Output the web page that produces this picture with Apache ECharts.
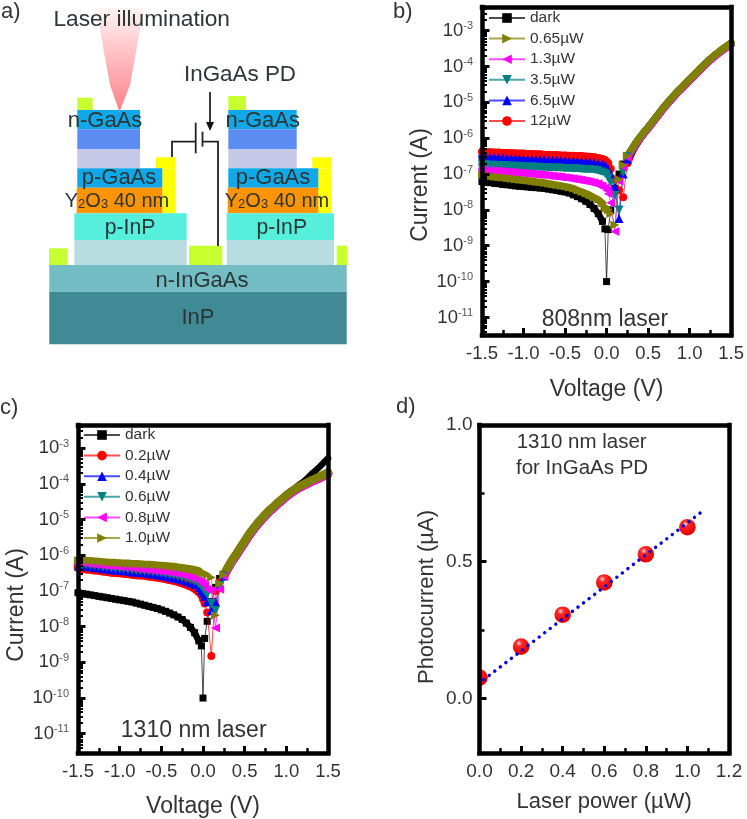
<!DOCTYPE html>
<html><head><meta charset="utf-8">
<style>html,body{margin:0;padding:0;background:#fff}#c{width:747px;height:819px;filter:blur(0.45px)}</style>
<script src="https://cdn.jsdelivr.net/npm/echarts@6/dist/echarts.min.js"></script>
</head><body><div id="c"></div>
<script>
// ---------- data ----------
const voltages = [-1.5,-1.45,-1.4,-1.35,-1.3,-1.25,-1.2,-1.15,-1.1,-1.05,-1.0,-.95,-.9,-.85,-.8,-.75,-.7,-.65,-.6,-.55,-.5,-.45,-.4,-.35,-.3,-.25,-.2,-.15,-.1,-.05,-.02,0,.02,.05,.1,.15,.2,.25,.3,.35,.4,.45,.5,.55,.6,.65,.7,.75,.8,.85,.9,.95,1.0,1.05,1.1,1.15,1.2,1.25,1.3,1.35,1.4,1.45,1.5];
// Panel b: log10 of current (A)
const bDark = [-7.21,-7.23,-7.24,-7.26,-7.27,-7.29,-7.30,-7.31,-7.33,-7.34,-7.35,-7.36,-7.37,-7.38,-7.39,-7.40,-7.42,-7.44,-7.46,-7.48,-7.50,-7.53,-7.58,-7.63,-7.69,-7.76,-7.85,-7.96,-8.1,-8.32,-8.53,-10,-8.55,-8.0,-7.4,-7.0,-6.72,-6.5,-6.31,-6.13,-5.97,-5.83,-5.69,-5.54,-5.39,-5.24,-5.09,-4.96,-4.83,-4.7,-4.59,-4.47,-4.35,-4.24,-4.12,-4.0,-3.89,-3.78,-3.68,-3.59,-3.5,-3.42,-3.33];
const b065 = [-7.03,-7.05,-7.06,-7.08,-7.09,-7.10,-7.12,-7.13,-7.15,-7.16,-7.17,-7.19,-7.20,-7.22,-7.23,-7.25,-7.27,-7.29,-7.31,-7.33,-7.35,-7.38,-7.41,-7.46,-7.50,-7.55,-7.60,-7.66,-7.72,-7.82,-7.9,-7.95,-8.0,-8.1,-8.42,-7.15,-6.75,-6.5,-6.32,-6.14,-5.98,-5.83,-5.7,-5.55,-5.4,-5.25,-5.1,-4.97,-4.84,-4.71,-4.6,-4.48,-4.36,-4.25,-4.13,-4.01,-3.9,-3.79,-3.69,-3.6,-3.51,-3.43,-3.35];
const b13 = [-6.87,-6.88,-6.89,-6.90,-6.91,-6.92,-6.93,-6.94,-6.95,-6.96,-6.97,-6.98,-6.99,-7.0,-7.01,-7.02,-7.03,-7.05,-7.06,-7.07,-7.09,-7.10,-7.12,-7.14,-7.16,-7.18,-7.2,-7.23,-7.26,-7.32,-7.38,-7.45,-7.55,-7.8,-8.6,-7.2,-6.8,-6.53,-6.35,-6.17,-6.01,-5.86,-5.73,-5.58,-5.43,-5.28,-5.13,-5.0,-4.87,-4.74,-4.63,-4.51,-4.39,-4.28,-4.16,-4.04,-3.93,-3.82,-3.72,-3.63,-3.54,-3.46,-3.38];
const b35 = [-6.73,-6.73,-6.74,-6.74,-6.75,-6.75,-6.76,-6.76,-6.77,-6.77,-6.78,-6.78,-6.79,-6.79,-6.80,-6.80,-6.81,-6.81,-6.82,-6.82,-6.83,-6.83,-6.84,-6.84,-6.85,-6.86,-6.86,-6.87,-6.89,-6.93,-6.98,-7.03,-7.1,-7.25,-7.6,-8.0,-6.95,-6.52,-6.34,-6.16,-6.0,-5.85,-5.72,-5.57,-5.42,-5.27,-5.12,-4.99,-4.86,-4.73,-4.62,-4.5,-4.38,-4.27,-4.15,-4.03,-3.92,-3.81,-3.71,-3.62,-3.53,-3.45,-3.37];
const b65 = [-6.52,-6.52,-6.53,-6.53,-6.54,-6.54,-6.55,-6.55,-6.56,-6.56,-6.57,-6.57,-6.58,-6.58,-6.59,-6.59,-6.60,-6.60,-6.61,-6.61,-6.62,-6.62,-6.63,-6.63,-6.64,-6.65,-6.66,-6.67,-6.69,-6.72,-6.76,-6.81,-6.87,-7.0,-7.35,-8.24,-7.0,-6.6,-6.38,-6.19,-6.02,-5.86,-5.72,-5.57,-5.42,-5.27,-5.12,-4.99,-4.86,-4.73,-4.62,-4.5,-4.38,-4.27,-4.15,-4.03,-3.92,-3.81,-3.71,-3.62,-3.53,-3.45,-3.37];
const b12 = [-6.38,-6.39,-6.39,-6.40,-6.40,-6.41,-6.41,-6.42,-6.42,-6.43,-6.43,-6.44,-6.44,-6.45,-6.45,-6.46,-6.46,-6.47,-6.47,-6.48,-6.48,-6.49,-6.49,-6.50,-6.50,-6.51,-6.52,-6.53,-6.55,-6.58,-6.61,-6.65,-6.7,-6.85,-7.15,-7.45,-7.65,-6.7,-6.42,-6.2,-6.02,-5.86,-5.72,-5.57,-5.42,-5.27,-5.12,-4.99,-4.86,-4.73,-4.61,-4.5,-4.38,-4.26,-4.14,-4.02,-3.91,-3.8,-3.7,-3.61,-3.52,-3.44,-3.36];
// Panel c
const cDark = [-7.05,-7.07,-7.09,-7.11,-7.13,-7.15,-7.17,-7.19,-7.21,-7.23,-7.25,-7.27,-7.29,-7.31,-7.34,-7.37,-7.40,-7.43,-7.46,-7.49,-7.53,-7.57,-7.62,-7.67,-7.73,-7.80,-7.90,-8.02,-8.17,-8.40,-8.54,-10,-8.33,-7.85,-7.3,-6.9,-6.65,-6.53,-6.31,-6.11,-5.94,-5.76,-5.58,-5.4,-5.24,-5.09,-4.96,-4.83,-4.71,-4.61,-4.5,-4.4,-4.3,-4.21,-4.13,-4.03,-3.95,-3.85,-3.73,-3.63,-3.52,-3.4,-3.28];
const c02 = [-6.36,-6.37,-6.39,-6.40,-6.42,-6.43,-6.45,-6.46,-6.48,-6.49,-6.50,-6.51,-6.52,-6.54,-6.55,-6.56,-6.57,-6.59,-6.60,-6.62,-6.64,-6.66,-6.69,-6.71,-6.74,-6.78,-6.82,-6.87,-6.93,-7.03,-7.12,-7.23,-7.35,-7.6,-8.82,-7.0,-6.75,-6.57,-6.35,-6.15,-5.98,-5.8,-5.62,-5.44,-5.28,-5.13,-5.0,-4.87,-4.75,-4.65,-4.54,-4.44,-4.34,-4.25,-4.17,-4.1,-4.04,-3.98,-3.92,-3.87,-3.82,-3.76,-3.7];
const c04 = [-6.30,-6.31,-6.33,-6.34,-6.36,-6.37,-6.39,-6.40,-6.42,-6.43,-6.44,-6.45,-6.46,-6.48,-6.49,-6.50,-6.51,-6.53,-6.54,-6.56,-6.58,-6.60,-6.63,-6.65,-6.68,-6.71,-6.75,-6.79,-6.84,-6.92,-6.99,-7.06,-7.15,-7.3,-7.55,-7.3,-6.85,-6.58,-6.36,-6.16,-5.99,-5.81,-5.63,-5.45,-5.29,-5.14,-5.01,-4.88,-4.76,-4.66,-4.55,-4.45,-4.35,-4.26,-4.18,-4.11,-4.05,-3.99,-3.93,-3.88,-3.83,-3.77,-3.71];
const c06 = [-6.26,-6.27,-6.28,-6.30,-6.31,-6.32,-6.34,-6.35,-6.37,-6.38,-6.39,-6.40,-6.41,-6.43,-6.44,-6.45,-6.46,-6.47,-6.48,-6.50,-6.52,-6.54,-6.56,-6.58,-6.61,-6.64,-6.67,-6.71,-6.75,-6.82,-6.87,-6.93,-7.0,-7.1,-7.35,-7.55,-6.85,-6.58,-6.36,-6.16,-5.99,-5.81,-5.63,-5.45,-5.29,-5.14,-5.01,-4.88,-4.76,-4.66,-4.55,-4.45,-4.35,-4.26,-4.18,-4.11,-4.05,-3.99,-3.93,-3.88,-3.83,-3.77,-3.71];
const c08 = [-6.21,-6.22,-6.23,-6.25,-6.26,-6.27,-6.29,-6.30,-6.31,-6.32,-6.33,-6.34,-6.35,-6.37,-6.38,-6.39,-6.40,-6.41,-6.43,-6.44,-6.46,-6.47,-6.49,-6.51,-6.53,-6.56,-6.59,-6.62,-6.66,-6.71,-6.75,-6.8,-6.85,-6.95,-6.98,-8.04,-6.95,-6.59,-6.37,-6.17,-6.0,-5.82,-5.64,-5.46,-5.3,-5.15,-5.02,-4.89,-4.77,-4.67,-4.56,-4.46,-4.36,-4.27,-4.19,-4.12,-4.06,-4.0,-3.94,-3.9,-3.84,-3.78,-3.73];
const c10 = [-6.14,-6.15,-6.16,-6.17,-6.18,-6.19,-6.20,-6.21,-6.22,-6.22,-6.23,-6.24,-6.24,-6.25,-6.25,-6.26,-6.27,-6.27,-6.28,-6.29,-6.30,-6.31,-6.32,-6.33,-6.35,-6.36,-6.38,-6.40,-6.42,-6.45,-6.47,-6.48,-6.5,-6.54,-6.62,-7.68,-6.8,-6.55,-6.33,-6.13,-5.96,-5.78,-5.6,-5.42,-5.26,-5.11,-4.98,-4.85,-4.73,-4.63,-4.52,-4.42,-4.32,-4.23,-4.15,-4.08,-4.02,-3.96,-3.9,-3.85,-3.8,-3.74,-3.68];
// Panel d
const laserPower = [0,0.2,0.4,0.6,0.8,1.0];
const photocurrent = [0.076,0.189,0.306,0.424,0.527,0.626];
const fitLine = [[0.02,0.068],[1.065,0.68]];
const decades = [-11,-10,-9,-8,-7,-6,-5,-4,-3];

// ---------- helpers ----------
const TXT='#333', FONT='"Liberation Sans", Arial, sans-serif';
const frameW=4.5;
const majors=decades.map(d=>Math.pow(10,d));
const minors=[];
[-12].concat(decades).forEach(d=>{for(let k=2;k<10;k++)minors.push(k*Math.pow(10,d));});
const grids=[],xAxes=[],yAxes=[],series=[],legends=[];
function lineOnly(extra){return Object.assign({show:true,z:6,axisLine:{show:true,onZero:false,lineStyle:{color:'#000',width:frameW,cap:'square'}},axisTick:{show:false},axisLabel:{show:false},splitLine:{show:false}},extra);}
function base(g,extra){return Object.assign({gridIndex:g,z:6,splitLine:{show:false},minorSplitLine:{show:false},nameTextStyle:{color:TXT,fontSize:23,fontFamily:FONT},axisLine:{show:true,onZero:false,lineStyle:{color:'#000',width:frameW,cap:'square'}}},extra);}
// indexes of the reverse and forward branches in `voltages` (the spikes between them stay thin)
const isBranch=i=>i<30||i>36;
const markSize=(full,i)=>i>37?0:(i<30?Math.min(full,8):full);

function ivPanel(rect,yMin,yMax,xGap,yGap,namePad,bandW,legendPos,list){
  const g=grids.length;
  grids.push(Object.assign({show:false},rect));
  const xi=xAxes.length, yi=yAxes.length;
  xAxes.push(base(g,{type:'value',min:-1.5,max:1.5,interval:0.5,position:'bottom',name:'Voltage (V)',nameLocation:'middle',nameGap:xGap,
    axisTick:{inside:true,length:7,lineStyle:{color:'#000',width:3}},
    minorTick:{show:true,splitNumber:2,length:5,lineStyle:{color:'#000',width:2.5}},
    axisLabel:{color:TXT,fontSize:18.5,fontFamily:FONT,margin:9,formatter:v=>v.toFixed(1),showMinLabel:true,showMaxLabel:true}}));
  xAxes.push(lineOnly({gridIndex:g,type:'value',min:-1.5,max:1.5,position:'top'}));
  const yRange={type:'log',logBase:10,min:Math.pow(10,yMin),max:Math.pow(10,yMax)};
  yAxes.push(base(g,Object.assign({},yRange,{position:'left',name:'Current (A)',nameLocation:'middle',nameGap:yGap,nameRotate:90,
    nameTextStyle:{color:TXT,fontSize:23,fontFamily:FONT,padding:namePad},
    axisTick:{inside:true,length:7.5,lineStyle:{color:'#000',width:3},customValues:majors},
    axisLabel:{margin:9,customValues:majors,fontFamily:FONT,
      formatter:v=>'{n|10}{s|'+Math.round(Math.log10(v))+'}',
      rich:{n:{fontSize:18.5,color:TXT,fontFamily:FONT},s:{fontSize:11,color:'#555',fontFamily:FONT,padding:[0,0,9,0]}}}})));
  yAxes.push(Object.assign({},yRange,{gridIndex:g,position:'left',z:6,splitLine:{show:false},axisLine:{show:false,onZero:false},axisLabel:{show:false},
    axisTick:{show:true,inside:true,length:5,lineStyle:{color:'#000',width:2},customValues:minors}}));
  yAxes.push(lineOnly(Object.assign({},yRange,{gridIndex:g,position:'right'})));
  list.forEach(s=>{
    const pts=voltages.map((v,i)=>[v,Math.pow(10,s.values[i])]);
    series.push({type:'line',name:s.name+' band',xAxisIndex:xi,yAxisIndex:yi,z:s.z,showSymbol:false,clip:true,connectNulls:false,
      lineStyle:{color:s.color,width:s.name==='dark'?6.5:bandW,cap:'round',join:'round'},
      data:pts.map((p,i)=>isBranch(i)?p:[p[0],'-'])});
    series.push({type:'line',name:s.name,xAxisIndex:xi,yAxisIndex:yi,z:s.z,symbol:s.symbol,symbolSize:(val,p)=>markSize(s.size,p.dataIndex),symbolRotate:s.rotate||0,showAllSymbol:true,
      clip:true,color:s.color,lineStyle:{color:s.color,width:1,opacity:.7},itemStyle:{color:s.color},data:pts});
  });
  legends.push(Object.assign({orient:'vertical',selectedMode:false,padding:0,itemWidth:36,itemHeight:12,itemGap:4.6,z:7,
    textStyle:{color:TXT,fontSize:15.5,fontFamily:FONT},data:legendPos.order},legendPos.at));
}
const C={k:'#000',r:'#ff0000',b:'#0000ff',t:'#008080',m:'#ff00ff',o:'#808000'};
ivPanel({left:482,top:7,width:250,height:328},-11.49,-2.34,43,32,[0,28,0,0],7.5,
 {order:['dark','0.65µW','1.3µW','3.5µW','6.5µW','12µW'],at:{left:488,top:10}},[
 {name:'dark',values:bDark,color:C.k,symbol:'rect',size:7,z:2},
 {name:'12µW',values:b12,color:C.r,symbol:'circle',size:8,z:3},
 {name:'6.5µW',values:b65,color:C.b,symbol:'triangle',size:9,z:3},
 {name:'3.5µW',values:b35,color:C.t,symbol:'triangle',size:9,rotate:180,z:3},
 {name:'1.3µW',values:b13,color:C.m,symbol:'triangle',size:9,rotate:90,z:3},
 {name:'0.65µW',values:b065,color:C.o,symbol:'triangle',size:9,rotate:-90,z:3}]);
ivPanel({left:78,top:425,width:250,height:329},-11.54,-2.35,42,36,[0,32,0,0],8.5,
 {order:['dark','0.2µW','0.4µW','0.6µW','0.8µW','1.0µW'],at:{left:83,top:427}},[
 {name:'dark',values:cDark,color:C.k,symbol:'rect',size:7,z:2},
 {name:'0.2µW',values:c02,color:C.r,symbol:'circle',size:8,z:3},
 {name:'0.4µW',values:c04,color:C.b,symbol:'triangle',size:9,z:3},
 {name:'0.6µW',values:c06,color:C.t,symbol:'triangle',size:9,rotate:180,z:3},
 {name:'0.8µW',values:c08,color:C.m,symbol:'triangle',size:9,rotate:90,z:3},
 {name:'1.0µW',values:c10,color:C.o,symbol:'triangle',size:9,rotate:-90,z:3}]);

// panel d
(function(){
  const g=grids.length;
  grids.push({show:false,left:479.5,top:425,width:249.5,height:328});
  const xi=xAxes.length, yi=yAxes.length;
  xAxes.push(base(g,{type:'value',min:0,max:1.2,interval:0.2,position:'bottom',name:'Laser power (µW)',nameLocation:'middle',nameGap:38,
    nameTextStyle:{color:TXT,fontSize:22,fontFamily:FONT},
    axisTick:{inside:true,length:7,lineStyle:{color:'#000',width:3}},
    minorTick:{show:true,splitNumber:2,length:5,lineStyle:{color:'#000',width:2.5}},
    axisLabel:{color:TXT,fontSize:19,fontFamily:FONT,margin:9,formatter:v=>v.toFixed(1)}}));
  xAxes.push(lineOnly({gridIndex:g,type:'value',min:0,max:1.2,position:'top'}));
  const r={type:'value',min:-0.2,max:1.0};
  yAxes.push(base(g,Object.assign({},r,{position:'left',name:'Photocurrent (µA)',nameLocation:'middle',nameGap:42,nameRotate:90,
    nameTextStyle:{color:TXT,fontSize:22,fontFamily:FONT,padding:[0,16,0,0]},
    axisTick:{inside:true,length:7,lineStyle:{color:'#000',width:3},customValues:[0,0.5]},
    axisLabel:{color:TXT,fontSize:19,fontFamily:FONT,margin:7,customValues:[0,0.5,1.0],formatter:v=>v.toFixed(1)}})));
  yAxes.push(Object.assign({},r,{gridIndex:g,position:'left',z:6,splitLine:{show:false},axisLine:{show:false,onZero:false},axisLabel:{show:false},
    axisTick:{show:true,inside:true,length:5,lineStyle:{color:'#000',width:2.5},customValues:[0.25,0.75]}}));
  yAxes.push(lineOnly(Object.assign({},r,{gridIndex:g,position:'right'})));
  series.push({type:'custom',name:'Photocurrent',xAxisIndex:xi,yAxisIndex:yi,clip:true,z:3,
    data:laserPower.map((p,i)=>[p,photocurrent[i]]),
    renderItem:(params,api)=>{const c=api.coord([api.value(0),api.value(1)]);
      return {type:'circle',shape:{cx:c[0],cy:c[1],r:8.3},style:{fill:new echarts.graphic.RadialGradient(0.38,0.3,0.65,[{offset:0,color:'#ffd8d8'},{offset:0.28,color:'#ff2a2a'},{offset:1,color:'#e60000'}])}};}});
  series.push({type:'line',name:'Fit',xAxisIndex:xi,yAxisIndex:yi,z:4,showSymbol:false,data:fitLine,
    lineStyle:{color:'#0000e0',width:3.4,type:[0.1,6.9],cap:'round'}});
})();

// ---------- schematic a) (illustration, not data) ----------
const LIME='#c8ff2e',YEL='#ffff00',CYAN='#10a8e8',PERI='#5c8cf2',LAV='#c6c8e8',ORG='#ff9300',TQ='#55efdc',GRY='#b9dce0';
const blocks=[
 [49.3,265,346.7,291.7,'#74bcc4'],[49.3,291.7,346.7,344.3,'#3f8a94'],
 [77.3,97.7,92.7,110,LIME],[228.3,96,246,110,LIME],
 [77.3,110,140,129.3,CYAN],[77.3,129.3,140,149,PERI],[77.3,149,140,168.3,LAV],
 [228.3,110,296.7,129.3,CYAN],[228.3,129.3,296.7,149,PERI],[228.3,149,296.7,168.3,LAV],
 [156,157.3,175.7,168.3,YEL],[162.3,168.3,175.7,213.3,YEL],[312.3,157.3,331.7,168.3,YEL],[318.3,168.3,331.7,213.3,YEL],
 [77.3,168.3,162.3,187.7,CYAN],[76.7,187.7,162.3,213.3,ORG],[228.3,168.3,318.3,187.7,CYAN],[227.7,187.7,318.3,213.3,ORG],
 [74.3,213.3,186.7,240,TQ],[74.3,240,186.7,265,GRY],[226.7,213.3,334,240,TQ],[226.7,240,334,265,GRY],
 [49,248.3,67.7,265,LIME],[189,245.7,222.3,265,LIME],[336.7,245.7,347.3,265,LIME]];
const labels=[
 ['Laser illumination',141.7,19.3,22.7],['InGaAs PD',240,75,22.4],
 ['n-GaAs',105,120.7,22],['n-GaAs',262.7,120.7,22],['p-GaAs',119,178,22],['p-GaAs',273,178,22],
 ['p-InP',130,227.7,21.2],['p-InP',281.7,227.7,21.2],['n-InGaAs',202,281,22],['InP',198,317.7,22]];
const panelTags=[['a)',1,12],['b)',393,12],['c)',0,408],['d)',396,407]];
const graphics=[];
blocks.forEach(b=>graphics.push({type:'rect',shape:{x:b[0],y:b[1],width:b[2]-b[0],height:b[3]-b[1]},style:{fill:b[4]},z:1}));
graphics.push({type:'polygon',z:2,shape:{points:[[96,8],[144,8],[130,85],[119.5,112],[110,85]]},
  style:{fill:new echarts.graphic.LinearGradient(0,0,0,1,[{offset:0,color:'#fff4f4'},{offset:1,color:'#ff8088'}])}});
[[[172,157],[172,141.7],[195,141.7]],[[202.5,141.7],[218,141.7],[218,246]],[[195.7,122.7],[195.7,153.3]],[[202.5,131.7],[202.5,146.7]],[[210,92],[210,124]]]
 .forEach(p=>graphics.push({type:'polyline',z:3,shape:{points:p},style:{stroke:'#222',lineWidth:1.8,fill:null}}));
graphics.push({type:'polygon',z:3,shape:{points:[[206,122],[214,122],[210,131]]},style:{fill:'#111'}});
labels.forEach(l=>graphics.push({type:'text',z:4,style:{text:l[0],x:l[1],y:l[2],align:'center',verticalAlign:'middle',fontSize:l[3],fontFamily:FONT,fill:'#2b3636'}}));
[[117],[277]].forEach(c=>graphics.push({type:'text',z:4,style:{text:'{a|Y}{s|2}{a|O}{s|3}{a| 40 nm}',x:c[0],y:201.7,align:'center',verticalAlign:'middle',fontFamily:FONT,
  rich:{a:{fontSize:20,fontFamily:FONT,fill:'#2b3636'},s:{fontSize:13,fontFamily:FONT,fill:'#2b3636',padding:[6,0,0,0],verticalAlign:'top'}}}}));
panelTags.forEach(t=>graphics.push({type:'text',z:4,style:{text:t[0],x:t[1],y:t[2],verticalAlign:'middle',fontSize:22,fontFamily:FONT,fill:TXT}}));
[['808nm laser',605,320,23,'center'],['1310 nm laser',193.7,731,23,'center'],['1310 nm laser',516.7,442.7,20.5,'left'],['for InGaAs PD',516,468,20.5,'left']]
 .forEach(t=>graphics.push({type:'text',z:4,style:{text:t[0],x:t[1],y:t[2],align:t[4],verticalAlign:'middle',fontSize:t[3],fontFamily:FONT,fill:TXT}}));

const chart=echarts.init(document.getElementById('c'),null,{width:747,height:819});
chart.setOption({animation:false,backgroundColor:'#fff',textStyle:{fontFamily:FONT},
  grid:grids,xAxis:xAxes,yAxis:yAxes,legend:legends,series:series,graphic:{elements:graphics}});
</script></body></html>
